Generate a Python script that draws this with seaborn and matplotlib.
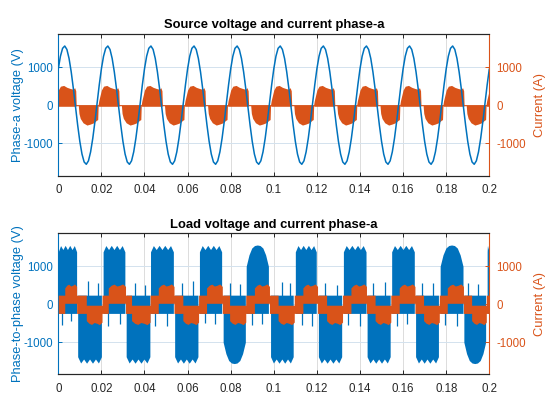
import numpy as np
import matplotlib
matplotlib.use("Agg")
import matplotlib.pyplot as plt
import seaborn as sns

# ---------------- data ----------------
x_ticks = [0, 0.02, 0.04, 0.06, 0.08, 0.1, 0.12, 0.14, 0.16, 0.18, 0.2]
x_tick_labels = ["0", "0.02", "0.04", "0.06", "0.08", "0.1", "0.12", "0.14", "0.16", "0.18", "0.2"]
y_ticks = [-1000, 0, 1000]
y_tick_labels = ["-1000", "0", "1000"]

# source phase-a voltage: one 50 Hz cycle sampled every 1 ms (repeats for 10 cycles)
src_period = 0.02
src_cycles = 10
src_step = 0.001
src_voltage_cycle = [956, 1290, 1498, 1559, 1468, 1232, 877, 436, -49, -528,
                     -956, -1290, -1498, -1559, -1468, -1232, -877, -436, 49, 528]

# source current: ripple band (upper / lower envelope) over one cycle
src_cur_t = [0.0000, 0.0010, 0.0025, 0.0040, 0.0055, 0.0068, 0.0076, 0.0081, 0.0083,
             0.0093, 0.0096, 0.0102, 0.0115, 0.0133, 0.0148, 0.0164, 0.0177, 0.0183,
             0.0185, 0.0188, 0.0194, 0.0200]
src_cur_upper = [400, 500, 520, 470, 440, 420, 460, 380, 15,
                 15, 15, 15, 15, 15, 15, 15, 15, 15,
                 15, 120, 260, 400]
src_cur_lower = [-30, -30, -30, -30, -30, -30, -30, -30, -15,
                 -15, -220, -350, -465, -525, -500, -465, -400, -380,
                 -15, -30, -30, -30]

# load phase-to-phase voltage: PWM blocks (start, end, polarity, envelope shape)
blk_start = [0.0000, 0.0090, 0.0208, 0.0315, 0.0428, 0.0540, 0.0655, 0.0765, 0.0872, 0.0985,
             0.1100, 0.1207, 0.1323, 0.1433, 0.1547, 0.1658, 0.1772, 0.1882, 0.1990]
blk_end = [0.0085, 0.0200, 0.0309, 0.0425, 0.0534, 0.0648, 0.0758, 0.0868, 0.0975, 0.1090,
           0.1197, 0.1315, 0.1428, 0.1540, 0.1652, 0.1764, 0.1878, 0.1983, 0.2000]
blk_sign = [1, -1, 1, -1, 1, -1, 1, -1, 1, -1, 1, -1, 1, -1, 1, -1, 1, -1, 1]
blk_shape = ["f", "f", "f", "f", "f", "f", "f", "r", "r", "f",
             "f", "f", "f", "f", "f", "f", "r", "r", "f"]
flat_profile = [1380, 1545, 1440, 1550, 1440, 1550, 1440, 1545, 1380]
round_profile = [1000, 1300, 1480, 1545, 1560, 1545, 1480, 1300, 1000]
blk_far_side = 240

# isolated opposite-polarity switching spikes
spike_t = [0.0016, 0.0060, 0.0139, 0.0183, 0.0232, 0.0286, 0.0356, 0.0402, 0.0449, 0.0503,
           0.0572, 0.0627, 0.0680, 0.0725, 0.0797, 0.0843, 0.0897, 0.0944, 0.1037, 0.1075,
           0.1129, 0.1176, 0.1238, 0.1292, 0.1346, 0.1400, 0.1462, 0.1516, 0.1570, 0.1616,
           0.1686, 0.1740, 0.1795, 0.1848, 0.1903, 0.1949]
spike_v = [-550, -450, 600, 550, -560, -520, 560, 520, -560, -560,
           560, 600, -500, -520, 560, 540, -540, -520, 580, 560,
           -540, -560, 560, 520, -540, -560, 560, 580, -560, -520,
           560, 560, -540, -560, 560, 540]

# load current: stepped waveform with ripple band
load_cur_edges = [0.0000, 0.0030, 0.0085, 0.0130, 0.0203, 0.0232, 0.0312, 0.0340, 0.0426, 0.0464,
                  0.0537, 0.0578, 0.0651, 0.0688, 0.0761, 0.0795, 0.0870, 0.0910, 0.0980, 0.1020,
                  0.1095, 0.1135, 0.1203, 0.1245, 0.1319, 0.1358, 0.1430, 0.1470, 0.1543, 0.1582,
                  0.1655, 0.1695, 0.1768, 0.1805, 0.1880, 0.1918, 0.1986, 0.2000]
load_cur_level = [0, 1, 0, -1, 0, 1, 0, -1, 0, 1, 0, -1, 0, 1, 0, -1, 0, 1, 0, -1,
                  0, 1, 0, -1, 0, 1, 0, -1, 0, 1, 0, -1, 0, 1, 0, -1, 0]
step_outer_profile = [430, 500, 530, 480, 500, 535, 470]
step_inner = 25
mid_half = 240

top_ylim = (-1860, 1876)
bot_ylim = (-1842, 1868)

# ---------------- style ----------------
BLUE = "#0072BD"
ORANGE = "#D95319"
DARK = "#262626"

sns.set_theme(style="white")
plt.rcParams["font.family"] = ["Liberation Sans", "DejaVu Sans"]
plt.rcParams["axes.unicode_minus"] = False

fig = plt.figure(figsize=(5.54, 4.15), dpi=100)
ax_top = fig.add_axes([0.1052, 0.5766, 0.7780, 0.3415])
ax_bot = fig.add_axes([0.1052, 0.0981, 0.7780, 0.3398])
ax_top2 = ax_top.twinx()
ax_bot2 = ax_bot.twinx()

TICK_FS = 8.3
LABEL_FS = 9.3
TITLE_FS = 9.4


def style_axes(ax, ax2, ylim, title, ylabel):
    for a in (ax, ax2):
        a.set_xlim(0, 0.2)
        a.set_ylim(*ylim)
        a.set_facecolor("none")
    ax.set_facecolor("white")
    ax.set_xticks(x_ticks)
    ax.set_xticklabels(x_tick_labels)
    ax.set_yticks(y_ticks)
    ax.set_yticklabels(y_tick_labels)
    ax2.set_yticks(y_ticks)
    ax2.set_yticklabels(y_tick_labels)
    ax.tick_params(axis="x", direction="in", length=3.2, width=0.7, colors=DARK,
                   labelsize=TICK_FS, pad=6.2, top=True, bottom=True)
    ax.tick_params(axis="y", direction="in", length=3.2, width=0.7, colors=BLUE,
                   labelsize=TICK_FS, pad=3.5, left=True, right=False)
    ax2.tick_params(axis="y", direction="in", length=3.2, width=0.7, colors=ORANGE,
                    labelsize=TICK_FS, pad=5, right=True, left=False)
    ax.xaxis.grid(True, color="#dcdcdc", lw=0.7)
    ax.yaxis.grid(True, color="#d3e2ee", lw=0.7)
    ax2.grid(False)
    ax.set_axisbelow(True)
    for a in (ax, ax2):
        for s in a.spines.values():
            s.set_linewidth(0.8)
        a.spines["top"].set_color(DARK)
        a.spines["bottom"].set_color(DARK)
    ax.spines["left"].set_color(BLUE)
    ax.spines["right"].set_visible(False)
    ax2.spines["left"].set_visible(False)
    ax2.spines["right"].set_color(ORANGE)
    ax.set_title(title, fontsize=TITLE_FS, fontweight="bold", color="black", pad=4)
    ax.set_ylabel(ylabel, fontsize=LABEL_FS, color=BLUE, labelpad=0)
    ax2.set_ylabel("Current (A)", fontsize=LABEL_FS, color=ORANGE, labelpad=6)
    ax.set_xlabel("")
    ax2.set_xlabel("")


# ---------------- top: source ----------------
t_src = np.arange(src_cycles * len(src_voltage_cycle) + 1) * src_step
v_src = np.array(src_voltage_cycle * src_cycles + [src_voltage_cycle[0]])

cur_t_all = np.concatenate([k * src_period + np.array(src_cur_t) for k in range(src_cycles)])
cur_up_all = np.tile(src_cur_upper, src_cycles)
cur_lo_all = np.tile(src_cur_lower, src_cycles)

# current on the lower layer, voltage line above it
ax_top.fill_between(cur_t_all, cur_lo_all, cur_up_all, color=ORANGE, lw=0)
sns.lineplot(x=t_src, y=v_src, ax=ax_top2, color=BLUE, lw=1.1, sort=False)

style_axes(ax_top, ax_top2, top_ylim, "Source voltage and current phase-a", "Phase-a voltage (V)")

# ---------------- bottom: load ----------------
for s, e, sg, shp in zip(blk_start, blk_end, blk_sign, blk_shape):
    prof = np.array(flat_profile if shp == "f" else round_profile, dtype=float)
    xs = np.linspace(s, e, len(prof))
    if sg > 0:
        ax_bot.fill_between(xs, -blk_far_side, prof, color=BLUE, lw=0)
    else:
        ax_bot.fill_between(xs, -prof, blk_far_side, color=BLUE, lw=0)
ax_bot.vlines(spike_t, 0, spike_v, color=BLUE, lw=0.9)

lx, lup, llo = [], [], []
prof = np.array(step_outer_profile, dtype=float)
for j, lev in enumerate(load_cur_level):
    s, e = load_cur_edges[j], load_cur_edges[j + 1]
    if lev == 0:
        xs = np.array([s, e])
        up = np.array([mid_half, mid_half])
        lo = -up
    else:
        xs = np.linspace(s, e, len(prof))
        if lev > 0:
            up = prof
            lo = np.full(len(prof), step_inner)
        else:
            up = np.full(len(prof), -step_inner)
            lo = -prof
    lx.append(xs); lup.append(up); llo.append(lo)
ax_bot2.fill_between(np.concatenate(lx), np.concatenate(llo), np.concatenate(lup),
                     color=ORANGE, lw=0)

style_axes(ax_bot, ax_bot2, bot_ylim, "Load voltage and current phase-a", "Phase-to-phase voltage (V)")

fig.savefig("out.png", dpi=100)
